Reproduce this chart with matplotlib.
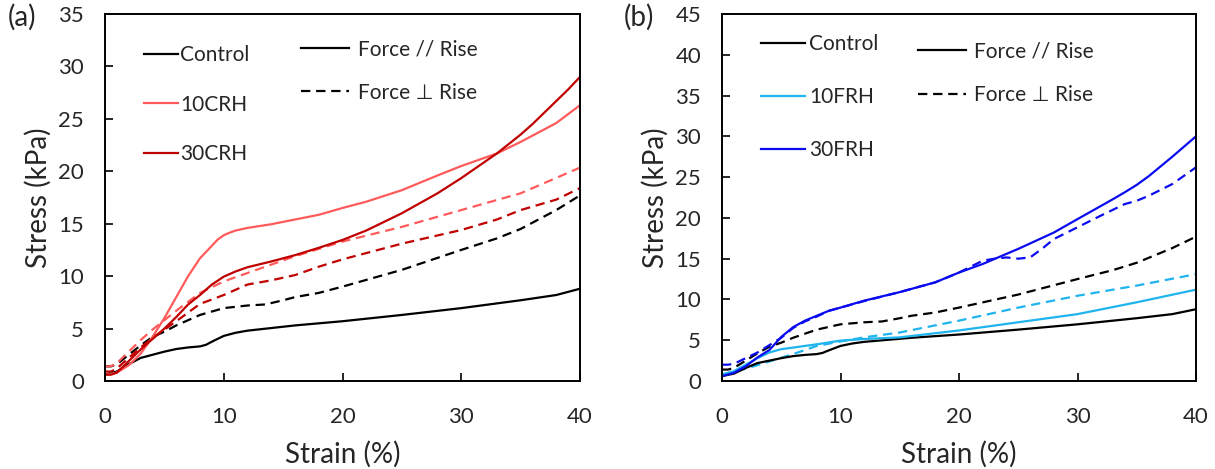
import matplotlib
matplotlib.use("Agg")
import matplotlib.pyplot as plt
from matplotlib.lines import Line2D

plt.rcParams['font.family'] = ['Lato', 'DejaVu Sans']

# ---------------- data ----------------
# Control (shared by both panels)
ctrl_par_x = [0, 1, 2, 3, 4, 5, 6, 7, 8, 8.5, 9, 10, 11, 12, 14, 16, 20, 25, 30, 35, 38, 40]
ctrl_par_y = [0.6, 0.9, 1.6, 2.2, 2.5, 2.8, 3.05, 3.2, 3.3, 3.45, 3.75, 4.3, 4.6, 4.8, 5.05, 5.3, 5.7, 6.3, 6.95, 7.7, 8.2, 8.8]
ctrl_perp_x = [0, 0.5, 1, 2, 3, 4, 5, 6, 8, 10, 12, 13.5, 15, 16, 18, 20, 25, 30, 33, 35, 36, 38, 40]
ctrl_perp_y = [1.4, 1.4, 1.6, 2.5, 3.4, 4.2, 4.7, 5.3, 6.3, 6.95, 7.2, 7.3, 7.7, 8.0, 8.4, 9.0, 10.6, 12.5, 13.6, 14.5, 15.1, 16.3, 17.7]

# Panel (a)
crh10_par_x = [0, 1, 2, 3, 4, 5, 6, 7, 8, 9, 9.5, 10, 10.5, 11, 12, 14, 16, 18, 20, 22, 25, 28, 30, 33, 35, 38, 40]
crh10_par_y = [0.6, 0.8, 1.5, 2.6, 4.2, 6.0, 8.0, 10.0, 11.7, 12.9, 13.5, 13.9, 14.15, 14.35, 14.6, 14.95, 15.4, 15.85, 16.5, 17.1, 18.2, 19.6, 20.5, 21.7, 22.8, 24.6, 26.3]
crh10_perp_x = [0, 0.5, 1, 2, 3, 4, 5, 6, 8, 10, 12, 14, 16, 20, 25, 30, 35, 40]
crh10_perp_y = [1.4, 1.4, 1.7, 2.8, 3.9, 4.9, 5.8, 6.7, 8.4, 9.5, 10.3, 11.1, 11.9, 13.3, 14.7, 16.3, 17.9, 20.35]
crh30_par_x = [0, 0.5, 1, 2, 3, 4, 5, 6, 7, 8, 9, 10, 11, 12, 14, 16, 18, 20, 22, 25, 28, 30, 33, 35, 36, 37, 38, 39, 40]
crh30_par_y = [0.6, 0.6, 0.8, 1.9, 3.0, 4.0, 5.0, 6.1, 7.3, 8.2, 9.2, 9.95, 10.45, 10.85, 11.4, 12.0, 12.7, 13.45, 14.35, 16.0, 17.9, 19.35, 21.7, 23.5, 24.5, 25.6, 26.7, 27.8, 29.0]
crh30_perp_x = [0, 0.5, 1, 2, 3, 4, 5, 6, 8, 10, 12, 14, 16, 18, 20, 25, 30, 33, 35, 38, 40]
crh30_perp_y = [0.9, 0.9, 1.2, 2.2, 3.2, 4.1, 4.9, 5.7, 7.35, 8.2, 9.2, 9.6, 10.1, 10.9, 11.6, 13.1, 14.4, 15.4, 16.3, 17.3, 18.4]

# Panel (b)
frh10_par_x = [0, 1, 2, 3, 4, 5, 6, 8, 10, 12, 15, 20, 25, 30, 35, 40]
frh10_par_y = [0.8, 1.2, 2.0, 2.8, 3.5, 3.9, 4.1, 4.5, 4.95, 5.15, 5.35, 6.2, 7.2, 8.2, 9.65, 11.2]
frh10_perp_x = [0, 2, 4, 6, 8, 10, 12, 15, 20, 25, 30, 35, 40]
frh10_perp_y = [0.8, 1.5, 2.4, 3.3, 4.3, 4.85, 5.35, 5.95, 7.4, 9.0, 10.45, 11.7, 13.1]
frh30_par_x = [0, 1, 2, 3, 4, 5, 6, 7, 8, 9, 10, 12, 15, 18, 20, 22, 25, 28, 30, 33, 34, 35, 36, 37, 38, 39, 40]
frh30_par_y = [0.6, 1.0, 1.8, 2.9, 3.8, 5.4, 6.6, 7.4, 8.0, 8.6, 9.0, 9.85, 10.9, 12.1, 13.3, 14.35, 16.2, 18.2, 19.85, 22.3, 23.15, 24.05, 25.1, 26.3, 27.5, 28.75, 30.0]
frh30_perp_x = [0, 0.5, 1, 2, 3, 4, 5, 6, 7, 8, 9, 10, 12, 15, 18, 20, 22, 23, 24, 25, 26, 27, 28, 30, 32, 34, 35, 36, 38, 40]
frh30_perp_y = [2.0, 2.0, 2.1, 2.8, 3.5, 4.4, 5.3, 6.5, 7.3, 7.9, 8.6, 9.0, 9.8, 10.9, 12.1, 13.3, 14.75, 15.0, 15.15, 15.0, 15.15, 16.2, 17.4, 18.85, 20.3, 21.7, 22.1, 22.7, 24.15, 26.2]

x_ticks = [0, 10, 20, 30, 40]
a_yticks = [0, 5, 10, 15, 20, 25, 30, 35]
b_yticks = [0, 5, 10, 15, 20, 25, 30, 35, 40, 45]

a_labels = ["Control", "10CRH", "30CRH"]
b_labels = ["Control", "10FRH", "30FRH"]
style_labels = ["Force // Rise", "Force \u22a5 Rise"]

# ---------------- styles ----------------
BLACK = "#000000"
LRED = "#FF5B5B"
DRED = "#C00000"
LBLUE = "#1FB4EE"
BLUE = "#0B0BF0"
TXT = "#262626"
LW = 1.6
DASH = (0, (4.2, 2.6))

W, H = 1215, 469
fig = plt.figure(figsize=(W / 100, H / 100), dpi=100)

def px_axes(l, r, t, b):
    return fig.add_axes([l / W, 1 - b / H, (r - l) / W, (b - t) / H])

axa = px_axes(105, 580, 14, 381)
axb = px_axes(722, 1196, 14, 381)

def style_axis(ax, yticks):
    ax.set_xlim(0, 40)
    ax.set_ylim(yticks[0], yticks[-1])
    ax.set_xticks(x_ticks)
    ax.set_yticks(yticks)
    ax.tick_params(direction="in", length=6, width=1.2, labelsize=16, colors="#000000",
                   labelcolor=TXT)
    ax.tick_params(axis="y", pad=15)
    ax.tick_params(axis="x", pad=19)
    for s in ax.spines.values():
        s.set_linewidth(1.4)
    ax.set_xlabel("Strain (%)", fontsize=20, labelpad=10, color=TXT)
    ax.set_ylabel("Stress (kPa)", fontsize=20, labelpad=5, color=TXT)

# panel (a)
axa.plot(ctrl_perp_x, ctrl_perp_y, color=BLACK, lw=LW, ls=DASH)
axa.plot(crh10_perp_x, crh10_perp_y, color=LRED, lw=LW, ls=DASH)
axa.plot(crh30_perp_x, crh30_perp_y, color=DRED, lw=LW, ls=DASH)
axa.plot(ctrl_par_x, ctrl_par_y, color=BLACK, lw=LW)
axa.plot(crh10_par_x, crh10_par_y, color=LRED, lw=LW)
axa.plot(crh30_par_x, crh30_par_y, color=DRED, lw=LW)
style_axis(axa, a_yticks)

# panel (b)
axb.plot(ctrl_perp_x, ctrl_perp_y, color=BLACK, lw=LW, ls=DASH)
axb.plot(frh10_perp_x, frh10_perp_y, color=LBLUE, lw=LW, ls=DASH)
axb.plot(frh30_perp_x, frh30_perp_y, color=BLUE, lw=LW, ls=DASH)
axb.plot(ctrl_par_x, ctrl_par_y, color=BLACK, lw=LW)
axb.plot(frh10_par_x, frh10_par_y, color=LBLUE, lw=LW)
axb.plot(frh30_par_x, frh30_par_y, color=BLUE, lw=LW)
style_axis(axb, b_yticks)

def add_legends(ax, labels, colors, anchor1, spacing1, hl1, pad1, anchor2, spacing2, hl2, pad2):
    h1 = [Line2D([], [], color=c, lw=LW) for c in colors]
    leg1 = ax.legend(h1, labels, loc="upper left", bbox_to_anchor=anchor1, frameon=False,
                     fontsize=15, handlelength=hl1, handletextpad=pad1, labelspacing=spacing1,
                     borderpad=0, borderaxespad=0)
    for t in leg1.get_texts():
        t.set_color(TXT)
    ax.add_artist(leg1)
    h2 = [Line2D([], [], color=BLACK, lw=LW), Line2D([], [], color=BLACK, lw=LW, ls=DASH)]
    leg2 = ax.legend(h2, style_labels, loc="upper left", bbox_to_anchor=anchor2, frameon=False,
                     fontsize=15, handlelength=hl2, handletextpad=pad2, labelspacing=spacing2,
                     borderpad=0, borderaxespad=0)
    for t in leg2.get_texts():
        t.set_color(TXT)

add_legends(axa, a_labels, [BLACK, LRED, DRED], (0.082, 0.915), 1.42, 1.65, 0.1,
            (0.413, 0.93), 1.1, 2.3, 0.45)
add_legends(axb, b_labels, [BLACK, LBLUE, BLUE], (0.082, 0.945), 1.58, 2.1, 0.2,
            (0.413, 0.925), 1.15, 2.3, 0.4)

fig.text(8 / W, 1 - 17 / H, "(a)", fontsize=20, va="center", ha="left", color=TXT)
fig.text(624 / W, 1 - 17 / H, "(b)", fontsize=20, va="center", ha="left", color=TXT)

fig.savefig("out.png", dpi=100)
